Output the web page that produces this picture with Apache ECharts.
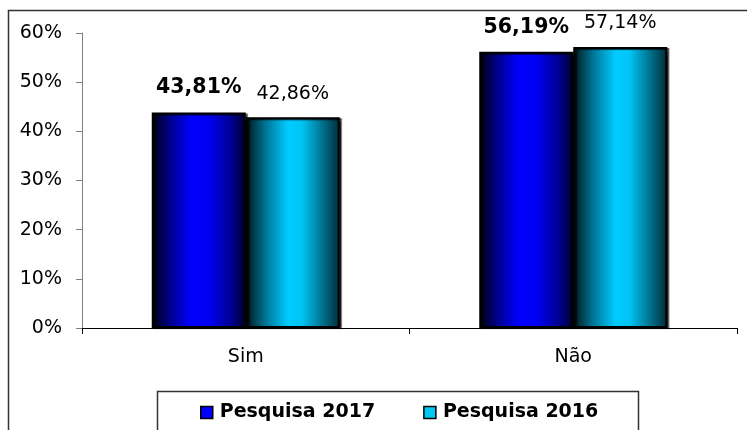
<!DOCTYPE html>
<html>
<head>
<meta charset="utf-8">
<script src="https://cdn.jsdelivr.net/npm/echarts@6/dist/echarts.min.js"></script>
<style>
  html, body { margin: 0; padding: 0; background: #fff; }
  #chart { width: 747px; height: 430px; }
</style>
</head>
<body>
<div id="chart"></div>
<script>
const categories = ['Sim', 'Não']
const seriesNames = ['Pesquisa 2017', 'Pesquisa 2016']
const pesquisa2017 = [43.81, 56.19]
const pesquisa2016 = [42.86, 57.14]
const yTicks = [0, 10, 20, 30, 40, 50, 60]

const font = 'DejaVu Sans'

// formata 43.81 -> "43,81%"
const fmt = v => v.toFixed(2).replace('.', ',') + '%'

const gradient = stops => new echarts.graphic.LinearGradient(0, 0, 1, 0,
  stops.map(([offset, color]) => ({ offset, color })))

const blueFill = gradient([[0, '#000008'], [0.2, '#000090'], [0.42, '#0000ff'], [0.62, '#0000f0'], [0.85, '#000090'], [1, '#000028']])
const cyanFill = gradient([[0, '#001418'], [0.2, '#007090'], [0.45, '#00ccff'], [0.6, '#00c4f4'], [0.82, '#00708c'], [1, '#002c38']])

const chart = echarts.init(document.getElementById('chart'))

const options = {
  backgroundColor: '#fff',
  animation: false,
  textStyle: { fontFamily: font },
  graphic: [
    {
      type: 'rect',
      shape: { x: 8.5, y: 10.5, width: 800, height: 500 },
      style: { fill: 'none', stroke: '#333', lineWidth: 1.5 },
      z: -1
    },
    {
      type: 'rect',
      shape: { x: 157.5, y: 391.5, width: 481, height: 60 },
      style: { fill: '#fff', stroke: '#333', lineWidth: 1.5 },
      z: -1
    }
  ],
  grid: {
    left: 82,
    right: 10,
    top: 33,
    bottom: 102
  },
  legend: {
    left: 200,
    top: 403,
    padding: 0,
    icon: 'rect',
    itemWidth: 12,
    itemHeight: 12,
    itemGap: 48,
    textStyle: { fontFamily: font, fontSize: 19, fontWeight: 'bold', color: '#000', padding: [0, 0, 0, 2] },
    data: [
      { name: seriesNames[0], itemStyle: { color: '#0000ff', borderColor: '#000', borderWidth: 1.5 } },
      { name: seriesNames[1], itemStyle: { color: '#00c8f0', borderColor: '#000', borderWidth: 1.5 } }
    ]
  },
  xAxis: {
    type: 'category',
    data: categories,
    axisLine: { lineStyle: { color: '#000', width: 1 } },
    axisTick: { show: true, length: 6, lineStyle: { color: '#000' } },
    axisLabel: { fontFamily: font, fontSize: 19, color: '#000', margin: 20 }
  },
  yAxis: {
    type: 'value',
    min: yTicks[0],
    max: yTicks[yTicks.length - 1],
    interval: 10,
    splitLine: { show: false },
    axisLine: { show: true, lineStyle: { color: '#808080' } },
    axisTick: { show: true, length: 6, lineStyle: { color: '#808080' } },
    axisLabel: { fontFamily: font, fontSize: 19, color: '#000', margin: 20, formatter: '{value}%' }
  },
  series: [
    {
      name: seriesNames[0],
      type: 'bar',
      data: pesquisa2017,
      barWidth: 94,
      barGap: '0%',
      itemStyle: {
        color: blueFill,
        borderColor: '#000',
        borderWidth: 2,
        shadowColor: 'rgba(0,0,0,0.7)',
        shadowOffsetX: 2,
        shadowOffsetY: 1,
        shadowBlur: 1
      },
      label: {
        show: true,
        position: 'top',
        distance: 14,
        fontFamily: font,
        fontSize: 20.5,
        fontWeight: 'bold',
        color: '#000',
        formatter: p => fmt(p.value)
      }
    },
    {
      name: seriesNames[1],
      type: 'bar',
      data: pesquisa2016,
      barWidth: 94,
      itemStyle: {
        color: cyanFill,
        borderColor: '#000',
        borderWidth: 2,
        shadowColor: 'rgba(0,0,0,0.7)',
        shadowOffsetX: 2,
        shadowOffsetY: 1,
        shadowBlur: 1
      },
      label: {
        show: true,
        position: 'top',
        distance: 14,
        fontFamily: font,
        fontSize: 19,
        color: '#000',
        formatter: p => fmt(p.value)
      }
    }
  ]
}

chart.setOption(options)

window.addEventListener('resize', () => {
  chart.resize()
})
</script>
</body>
</html>
